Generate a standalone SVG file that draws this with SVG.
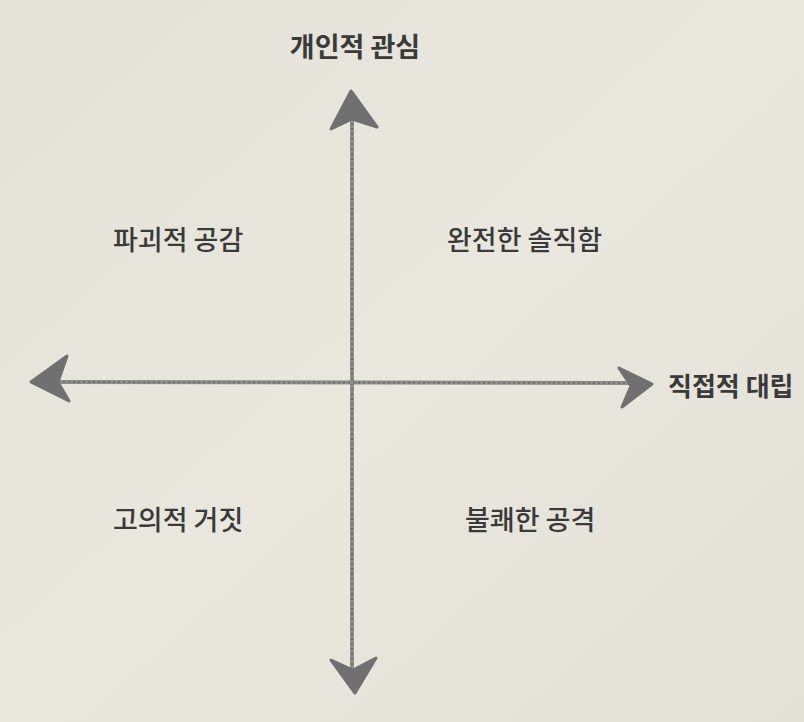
<svg xmlns="http://www.w3.org/2000/svg" width="804" height="722" viewBox="0 0 804 722">
<defs>
<style>
.lbl{font-family:"Noto Sans CJK KR","Noto Sans",sans-serif;fill:#3a3a3a;}
.axis{font-weight:700;}
.quad{font-size:27px;font-weight:500;}
.ax{stroke:#8d8d8b;stroke-width:4;fill:none;}
.axd{stroke:#6f6f6d;stroke-width:2;stroke-dasharray:2 3;fill:none;}
.head{fill:#707070;stroke:#707070;stroke-width:3;stroke-linejoin:round;}
</style>
<linearGradient id="bg" x1="0" y1="0" x2="1" y2="1">
<stop offset="0" stop-color="#e4e2d8"/>
<stop offset="0.5" stop-color="#e9e7de"/>
<stop offset="1" stop-color="#e3e1d7"/>
</linearGradient>
</defs>
<rect width="804" height="722" fill="url(#bg)"/>
<g id="connectors">
<path class="ax" d="M352,118 L352,672"/>
<path class="axd" d="M352,118 L352,672"/>
<path class="ax" d="M58,382 L634,383"/>
<path class="axd" d="M58,382 L634,383"/>
<polygon class="head" points="351,91 331,129 352,119 377,127"/>
<polygon class="head" points="355,693 331,660 353,670 376,658"/>
<polygon class="head" points="31,382 67,356 58,382 69,401"/>
<polygon class="head" points="652,384 619,368 631,386 622,407"/>
</g>
<g id="n-top"><text class="lbl axis" x="355" y="57" font-size="27" text-anchor="middle">개인적 관심</text></g>
<g id="n-right"><text class="lbl axis" x="668" y="396" font-size="26">직접적 대립</text></g>
<g id="n-tl"><text class="lbl quad" x="113" y="250">파괴적 공감</text></g>
<g id="n-tr"><text class="lbl quad" x="447" y="250">완전한 솔직함</text></g>
<g id="n-bl"><text class="lbl quad" x="113" y="530">고의적 거짓</text></g>
<g id="n-br"><text class="lbl quad" x="465" y="530">불쾌한 공격</text></g>
</svg>
